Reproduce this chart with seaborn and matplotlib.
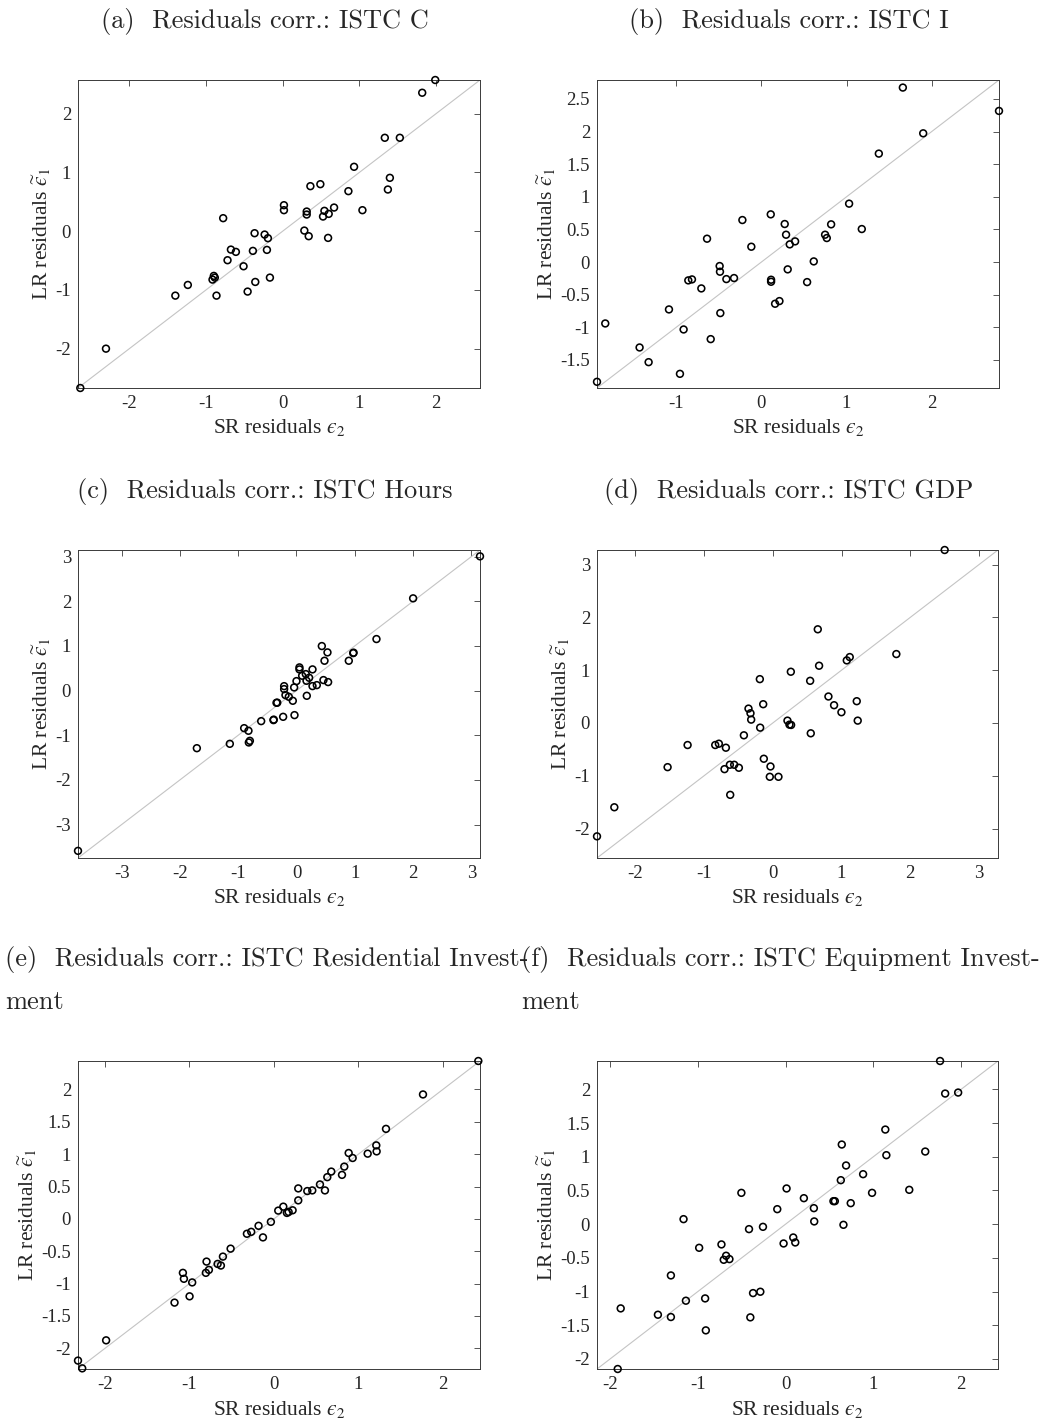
import matplotlib
matplotlib.use("Agg")
import matplotlib.pyplot as plt
import seaborn as sns
import pandas as pd
from matplotlib.ticker import MultipleLocator, FuncFormatter

# ---------------- data ----------------
titles = [
    ["(a)  Residuals corr.: ISTC C"],
    ["(b)  Residuals corr.: ISTC I"],
    ["(c)  Residuals corr.: ISTC Hours"],
    ["(d)  Residuals corr.: ISTC GDP"],
    ["(e)  Residuals corr.: ISTC Residential Invest-", "ment"],
    ["(f)  Residuals corr.: ISTC Equipment Invest-", "ment"],
]

sr_a = [-2.64, -2.305, -1.40, -1.237, -0.915, -0.898, -0.885, -0.863, -0.776, -0.719, -0.675,
        -0.61, -0.51, -0.457, -0.388, -0.366, -0.357, -0.235, -0.205, -0.192, -0.166, 0.017,
        0.017, 0.283, 0.314, 0.314, 0.34, 0.362, 0.492, 0.527, 0.545, 0.601, 0.593, 0.671,
        0.858, 0.932, 1.041, 1.333, 1.373, 1.399, 1.529, 1.821, 1.991]
lr_a = [-2.67, -2.0, -1.097, -0.915, -0.824, -0.761, -0.79, -1.097, 0.222, -0.494, -0.313,
        -0.352, -0.597, -1.028, -0.335, -0.034, -0.864, -0.057, -0.318, -0.119, -0.79, 0.443,
        0.358, 0.011, 0.335, 0.284, -0.085, 0.767, 0.801, 0.25, 0.347, 0.295, -0.114, 0.403,
        0.682, 1.097, 0.358, 1.591, 0.71, 0.909, 1.591, 2.358, 2.575]

sr_b = [-1.93, -1.833, -1.43, -1.324, -1.085, -0.956, -0.913, -0.858, -0.815, -0.705, -0.638,
        -0.595, -0.49, -0.486, -0.482, -0.411, -0.321, -0.223, -0.118, 0.110, 0.114, 0.114,
        0.161, 0.212, 0.274, 0.29, 0.309, 0.333, 0.396, 0.537, 0.615, 0.748, 0.768, 0.819,
        1.03, 1.179, 1.379, 1.661, 1.90, 2.79]
lr_b = [-1.835, -0.941, -1.309, -1.534, -0.726, -1.713, -1.033, -0.281, -0.266, -0.404, 0.358,
        -1.181, -0.061, -0.148, -0.782, -0.261, -0.245, 0.644, 0.235, 0.731, -0.271, -0.302,
        -0.639, -0.598, 0.583, 0.419, -0.112, 0.271, 0.317, -0.307, 0.01, 0.419, 0.368, 0.578,
        0.895, 0.506, 1.662, 2.674, 1.973, 2.316]

sr_c = [-3.75, -1.71, -1.144, -0.898, -0.824, -0.818, -0.80, -0.606, -0.395, -0.39, -0.343,
        -0.33, -0.229, -0.212, -0.212, -0.189, -0.132, -0.063, -0.04, -0.034, 0.0, 0.051, 0.051,
        0.097, 0.16, 0.172, 0.177, 0.217, 0.275, 0.275, 0.349, 0.435, 0.463, 0.481, 0.532,
        0.543, 0.898, 0.973, 0.98, 1.373, 2.002, 3.15]
lr_c = [-3.59, -1.29, -1.192, -0.841, -0.90, -1.162, -1.125, -0.684, -0.661, -0.65, -0.273,
        -0.27, -0.587, 0.10, 0.034, -0.10, -0.138, -0.228, 0.071, -0.549, 0.213, 0.52, 0.475,
        0.333, 0.37, 0.22, -0.116, 0.288, 0.475, 0.101, 0.123, 0.998, 0.236, 0.669, 0.856,
        0.191, 0.669, 0.84, 0.85, 1.155, 2.067, 3.008]

sr_d = [-2.558, -2.306, -1.531, -1.24, -0.838, -0.785, -0.683, -0.703, -0.625, -0.562, -0.62,
        -0.494, -0.421, -0.354, -0.325, -0.315, -0.189, -0.184, -0.14, -0.131, -0.034, -0.044,
        0.082, 0.213, 0.242, 0.266, 0.262, 0.543, 0.552, 0.654, 0.673, 0.809, 0.891, 0.998,
        1.076, 1.119, 1.221, 1.235, 1.797, 2.50]
lr_d = [-2.148, -1.597, -0.837, -0.418, -0.418, -0.393, -0.469, -0.875, -0.792, -0.792, -1.362,
        -0.849, -0.234, 0.272, 0.184, 0.063, 0.830, -0.089, 0.355, -0.678, -0.824, -1.02,
        -1.02, 0.044, -0.032, -0.038, 0.970, 0.798, -0.196, 1.774, 1.084, 0.501, 0.336, 0.203,
        1.185, 1.248, 0.412, 0.044, 1.305, 3.276]

sr_e = [-2.32, -2.27, -1.987, -1.177, -1.078, -1.066, -0.999, -0.968, -0.798, -0.806, -0.77,
        -0.667, -0.628, -0.604, -0.513, -0.32, -0.269, -0.182, -0.13, -0.036, 0.051, 0.111,
        0.154, 0.174, 0.221, 0.288, 0.288, 0.395, 0.454, 0.545, 0.604, 0.632, 0.679, 0.806,
        0.833, 0.885, 0.932, 1.11, 1.212, 1.216, 1.327, 1.765, 2.42]
lr_e = [-2.19, -2.31, -1.877, -1.294, -0.834, -0.926, -1.197, -0.982, -0.66, -0.834, -0.788,
        -0.696, -0.721, -0.583, -0.46, -0.23, -0.2, -0.107, -0.286, -0.046, 0.128, 0.189,
        0.092, 0.107, 0.133, 0.286, 0.471, 0.43, 0.44, 0.532, 0.44, 0.645, 0.731, 0.68,
        0.808, 1.018, 0.941, 1.008, 1.136, 1.043, 1.391, 1.923, 2.44]

sr_f = [-1.913, -1.879, -1.455, -1.307, -1.307, -1.163, -1.136, -0.985, -0.917, -0.909, -0.731,
        -0.705, -0.678, -0.64, -0.504, -0.417, -0.402, -0.371, -0.288, -0.258, -0.095, -0.023,
        0.011, 0.087, 0.11, 0.208, 0.322, 0.326, 0.545, 0.561, 0.629, 0.64, 0.659, 0.689,
        0.742, 0.883, 0.985, 1.136, 1.148, 1.409, 1.591, 1.76, 1.818, 1.966]
lr_f = [-2.149, -1.25, -1.344, -1.378, -0.761, 0.074, -1.136, -0.351, -1.102, -1.576, -0.301,
        -0.529, -0.469, -0.519, 0.464, -0.074, -1.383, -1.023, -1.003, -0.04, 0.222, -0.287,
        0.529, -0.198, -0.272, 0.385, 0.237, 0.04, 0.341, 0.341, 0.652, 1.181, -0.01, 0.87,
        0.311, 0.741, 0.464, 1.403, 1.023, 0.509, 1.077, 2.42, 1.937, 1.952]

x_steps = [1, 1, 1, 1, 1, 1]
y_steps = [1, 0.5, 1, 1, 0.5, 0.5]

# ---------------- style ----------------
sns.set_style("white")
plt.rcParams["font.family"] = ["Liberation Serif", "DejaVu Serif"]
plt.rcParams["mathtext.fontset"] = "stix"
plt.rcParams["axes.unicode_minus"] = False

W, H = 1048, 1421
fig = plt.figure(figsize=(W / 100, H / 100), dpi=100)
fig.patch.set_facecolor("white")

# axes boxes in pixels (left, top, right, bottom)
boxes = [
    (78, 80, 480, 388), (597, 80, 999, 388),
    (78, 550, 480, 858), (597, 550, 998, 858),
    (78, 1061, 480, 1369), (597, 1061, 998, 1369),
]
# title anchors: x, list of baselines, ha
title_pos = [
    (265, [28], "center"), (789, [28], "center"),
    (265, [498], "center"), (789, [498], "center"),
    (5, [966, 1009], "left"), (521, [966, 1009], "left"),
]

series = [(sr_a, lr_a), (sr_b, lr_b), (sr_c, lr_c), (sr_d, lr_d), (sr_e, lr_e), (sr_f, lr_f)]
fmt = FuncFormatter(lambda v, p: f"{v:g}".replace("\u2212", "-"))
frame_col = "#3a3a3a"
xlab = "SR residuals $\u03f5_2$"
ylab = "LR residuals $\\widetilde{\u03f5}_1$"

for i, ((sr, lr), box) in enumerate(zip(series, boxes)):
    x0, y0, x1, y1 = box
    ax = fig.add_axes([x0 / W, 1 - y1 / H, (x1 - x0) / W, (y1 - y0) / H])
    df = pd.DataFrame({"sr": sr, "lr": lr})
    lo = min(df["sr"].min(), df["lr"].min())
    hi = max(df["sr"].max(), df["lr"].max())
    ax.plot([lo, hi], [lo, hi], color="#c4c4c4", lw=0.8, zorder=1)
    sns.scatterplot(data=df, x="sr", y="lr", ax=ax, marker="o", s=24,
                    edgecolor="black", linewidth=1.15, zorder=3, legend=False,
                    clip_on=False)
    ax.collections[-1].set_facecolor("none")
    ax.set_xlim(lo, hi)
    ax.set_ylim(lo, hi)
    ax.xaxis.set_major_locator(MultipleLocator(x_steps[i]))
    ax.yaxis.set_major_locator(MultipleLocator(y_steps[i]))
    ax.xaxis.set_major_formatter(fmt)
    ax.yaxis.set_major_formatter(fmt)
    ax.tick_params(direction="in", top=True, right=True, length=4.5, width=0.6,
                   color=frame_col, labelsize=13.5, labelcolor="#262626", pad=5)
    for sp in ax.spines.values():
        sp.set_color(frame_col)
        sp.set_linewidth(0.7)
    ax.set_xlabel(xlab, fontsize=15.5, color="#262626", labelpad=4)
    ax.set_ylabel(ylab, fontsize=15.5, color="#262626", labelpad=2)
    tx, tys, ha = title_pos[i]
    for line, ty in zip(titles[i], tys):
        fig.text(tx / W, 1 - ty / H, line, ha=ha, va="baseline",
                 family="cmr10", fontsize=19)

fig.savefig("out.png", dpi=100, facecolor="white")
